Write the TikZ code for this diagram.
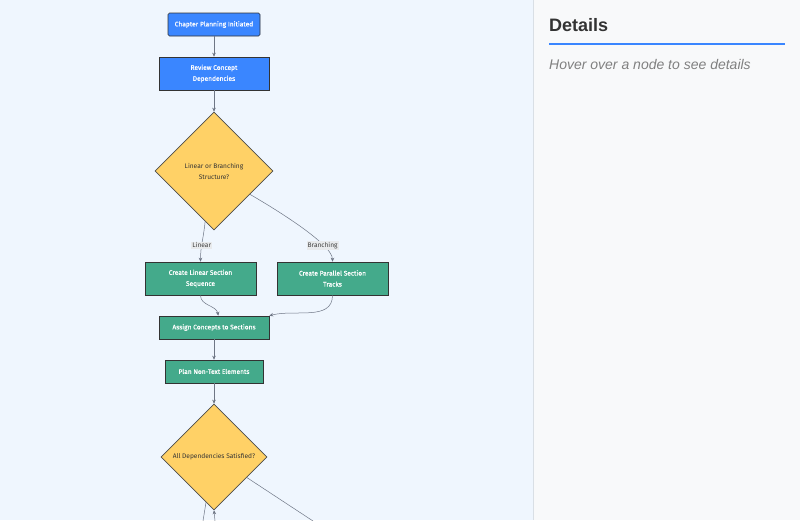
\documentclass[tikz,border=0pt]{standalone}
\usepackage{fontspec}
\setmainfont{Liberation Sans}
\newfontfamily\chartfont{Fira Sans}
\newfontfamily\chartboldfont[FakeBold=0.6]{Fira Sans}
\usetikzlibrary{arrows.meta,shapes.geometric}
\definecolor{leftbg}{HTML}{EFF6FE}
\definecolor{rightbg}{HTML}{F8F9FA}
\definecolor{divider}{HTML}{D9DFE5}
\definecolor{startblue}{HTML}{3A86FF}
\definecolor{stepgreen}{HTML}{44AA8B}
\definecolor{askyellow}{HTML}{FFD166}
\definecolor{edgegrey}{HTML}{6E7685}
\definecolor{labelgrey}{HTML}{E8EAEC}
\definecolor{titleink}{HTML}{333333}
\definecolor{hintink}{HTML}{808080}

\begin{document}
\begin{tikzpicture}[x=1pt,y=-1pt,
	box/.style={draw=black!80, line width=0.6pt, inner sep=0pt, align=center,
		font=\chartboldfont\fontsize{6.6}{11}\selectfont, text=white},
	startbox/.style={box, fill=startblue, rounded corners=1.5pt},
	bluebox/.style={box, fill=startblue},
	greenbox/.style={box, fill=stepgreen},
	askbox/.style={draw=black!70, line width=0.6pt, fill=askyellow, shape=diamond,
		aspect=1, inner sep=0pt, align=center, text=black!80,
		font=\chartfont\fontsize{6.6}{11}\selectfont},
	flow/.style={draw=edgegrey, line width=0.5pt, -{Stealth[length=4pt,width=3.5pt]}},
	elabel/.style={fill=labelgrey, inner sep=1pt, text=black!75,
		font=\chartfont\fontsize{6.6}{7}\selectfont}]
		%%%%% START %%%%%
		
		\useasboundingbox (0, 0) rectangle (800, 520);
		\fill[leftbg] (0, 0) rectangle (533, 520);
		\fill[rightbg] (533, 0) rectangle (800, 520);
		\draw[divider, line width=1pt] (533.5, 0) -- (533.5, 520);
		
		% side panel
		\node[anchor=base west, inner sep=0pt, text=titleink, font=\fontsize{18}{20}\selectfont\bfseries] (title) at (549, 31) {Details};
		\draw[startblue, line width=2pt] (549, 44) -- (785, 44);
		\node[anchor=base west, inner sep=0pt, text=hintink, font=\fontsize{14}{16}\selectfont\itshape] (hint) at (549, 69) {Hover over a node to see details};
		
		% flow nodes
		\node[startbox, minimum width=92, minimum height=23] (start) at (214, 24.5) {Chapter Planning Initiated};
		\node[bluebox, minimum width=110, minimum height=33] (review) at (214, 73.5) {Review Concept\\Dependencies};
		\node[askbox, minimum width=118, minimum height=118] (shape) at (214, 171) {Linear or Branching\\Structure?};
		\node[greenbox, minimum width=111, minimum height=33] (linear) at (200.5, 278.5) {Create Linear Section\\Sequence};
		\node[greenbox, minimum width=111, minimum height=33] (parallel) at (332.5, 278.5) {Create Parallel Section\\Tracks};
		\node[greenbox, minimum width=110, minimum height=23] (assign) at (214, 327.5) {Assign Concepts to Sections};
		\node[greenbox, minimum width=98, minimum height=23] (nontext) at (214, 371.5) {Plan Non-Text Elements};
		\node[askbox, minimum width=106, minimum height=106] (satisfied) at (214, 457) {All Dependencies Satisfied?};
		
		% loose ends below the page
		\coordinate (outno) at (203, 521);
		\coordinate (outyes) at (313, 521);
		\coordinate (backin) at (215, 521);
		
		% connectors
		\draw[flow] (start) -- (review);
		\draw[flow] (review) -- (shape);
		\draw[flow] (shape.-100) to[out=-95, in=90] node[elabel, pos=0.6] {Linear} (linear.north);
		\draw[flow] (shape.-33) to[out=-30, in=90, looseness=0.45] node[elabel, pos=0.76] {Branching} (parallel.north);
		\draw[flow] (linear.south) to[out=-90, in=100] (assign.70);
		\draw[flow] (parallel.south) to[out=-90, in=15] (assign.north east);
		\draw[flow] (assign) -- (nontext);
		\draw[flow] (nontext) -- (satisfied);
		\draw[draw=edgegrey, line width=0.5pt] (satisfied.-100) -- (outno);
		\draw[draw=edgegrey, line width=0.5pt] (satisfied.-32) -- (outyes);
		\draw[flow] (backin) -- (satisfied.south);
		
		%%%%% END %%%%%
\end{tikzpicture}
\end{document}
